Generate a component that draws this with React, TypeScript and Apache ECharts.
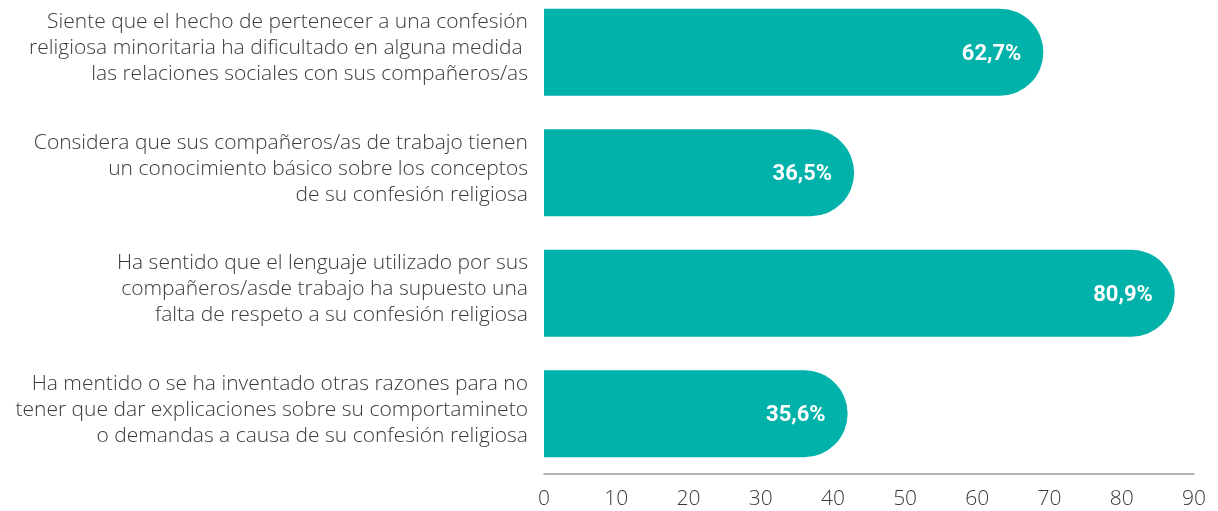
import React, { useEffect, useRef } from "react";
import * as echarts from "echarts";

const categories = [
  "Siente que el hecho de pertenecer a una confesión\nreligiosa minoritaria ha dificultado en alguna medida \nlas relaciones sociales con sus compañeros/as",
  "Considera que sus compañeros/as de trabajo tienen\nun conocimiento básico sobre los conceptos\nde su confesión religiosa",
  "Ha sentido que el lenguaje utilizado por sus\ncompañeros/asde trabajo ha supuesto una\nfalta de respeto a su confesión religiosa",
  "Ha mentido o se ha inventado otras razones para no\ntener que dar explicaciones sobre su comportamineto\no demandas a causa de su confesión religiosa",
];
const values = [62.7, 36.5, 80.9, 35.6];
const labels = ["62,7%", "36,5%", "80,9%", "35,6%"];

const TEAL = "#00b2a9";

export default function App() {
  const ref = useRef<HTMLDivElement>(null);
  useEffect(() => {
    if (!ref.current) return;
    const chart = echarts.init(ref.current, null, { renderer: "svg" });
    chart.setOption({
      animation: false,
      grid: [
        { left: 544, right: 24, top: 6, bottom: 37 },
        { left: 544, right: 24, top: 0, bottom: 43 },
      ],
      xAxis: [
        {
          type: "value",
          gridIndex: 0,
          min: 0,
          max: 90,
          interval: 10,
          splitLine: { show: false },
          axisTick: { show: false },
          axisLine: { show: true, lineStyle: { color: "#9a9a9a", width: 1.5 } },
          axisLabel: {
            color: "#3a3a3a",
            fontFamily: "Open Sans",
            fontWeight: 300,
            fontSize: 21,
            margin: 12,
          },
        },
        { type: "value", gridIndex: 1, min: 0, max: 90, show: false },
      ],
      yAxis: [
        {
          type: "category",
          gridIndex: 0,
          inverse: true,
          data: categories,
          axisLine: { show: false },
          axisTick: { show: false },
          axisLabel: { show: false },
        },
        {
          type: "category",
          gridIndex: 1,
          inverse: true,
          data: categories,
          axisLine: { show: false },
          axisTick: { show: false },
          splitLine: { show: false },
          axisLabel: {
            color: "#3a3a3a",
            fontFamily: "Open Sans",
            fontWeight: 300,
            fontSize: 21,
            lineHeight: 26,
            margin: 16,
            align: "right",
          },
        },
      ],
      series: [
        {
          type: "custom",
          xAxisIndex: 0,
          yAxisIndex: 0,
          encode: { x: 0, y: 1 },
          data: values.map((v, i) => [v, i]),
          renderItem: (params: any, api: any) => {
            const idx = api.value(1);
            const start = api.coord([0, idx]);
            const end = api.coord([api.value(0), idx]);
            const band = api.size([0, 1])[1];
            const h = band * 0.722;
            const r = h / 2;
            const right = end[0] + r + 3;
            return {
              type: "group",
              children: [
                {
                  type: "rect",
                  shape: {
                    x: start[0],
                    y: start[1] - h / 2,
                    width: right - start[0],
                    height: h,
                    r: [0, r, r, 0],
                  },
                  style: { fill: TEAL },
                },
                {
                  type: "text",
                  x: right - 22,
                  y: start[1],
                  style: {
                    text: labels[params.dataIndex],
                    fill: "#ffffff",
                    font: "bold 22px Roboto",
                    align: "right",
                    verticalAlign: "middle",
                  },
                },
              ],
            };
          },
        },
      ],
    });
    return () => chart.dispose();
  }, []);
  return (
    <div
      ref={ref}
      style={{ position: "fixed", left: 0, top: -14, width: 1218, height: 525 }}
    />
  );
}
